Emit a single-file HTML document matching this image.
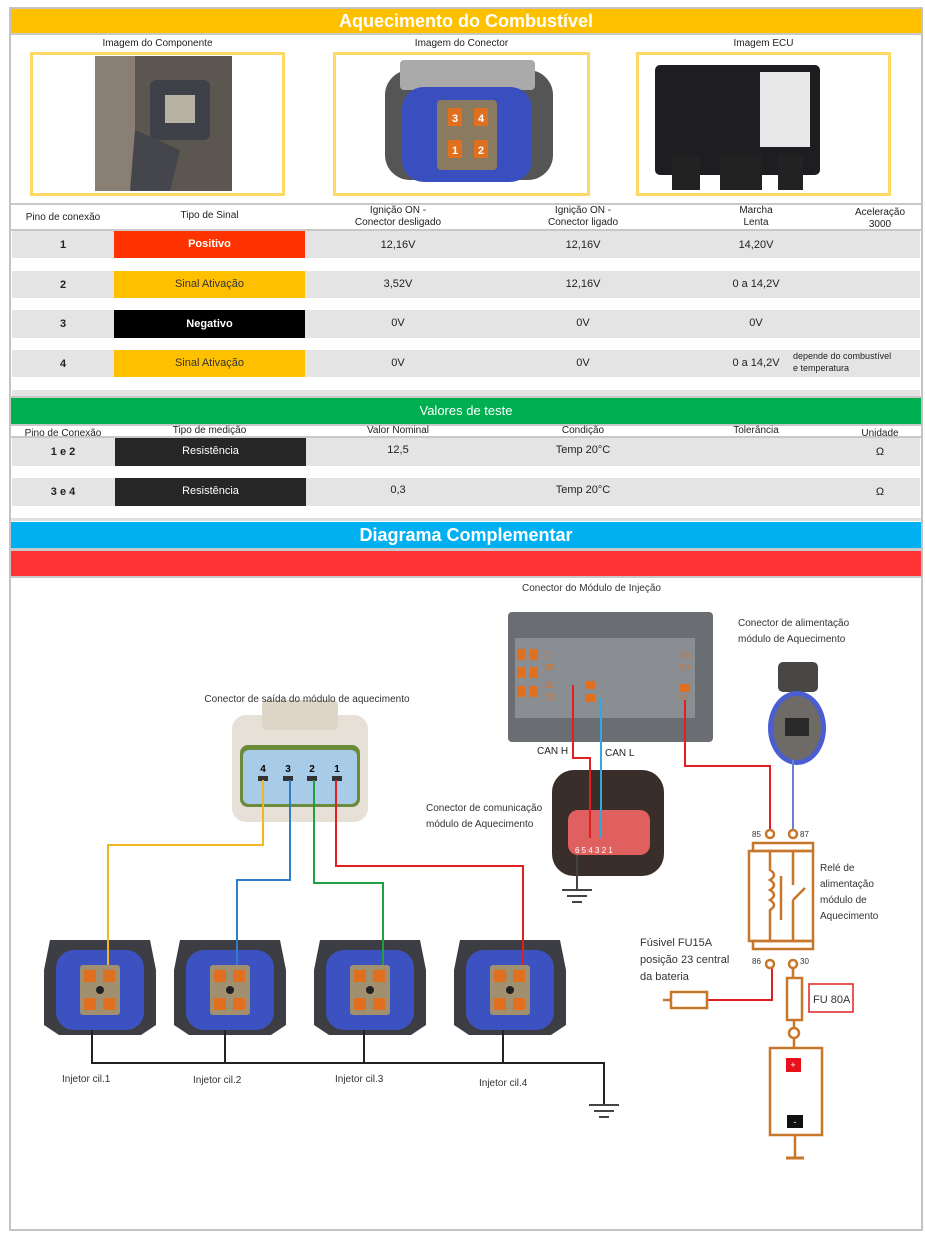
<!DOCTYPE html>
<html><head><meta charset="utf-8"><style>
*{margin:0;padding:0;box-sizing:border-box}
body{width:925px;height:1237px;background:#fff;position:relative;overflow:hidden;font-family:"Liberation Sans",sans-serif;color:#222}
.a{position:absolute}
.t{position:absolute;font-size:10px;text-align:center;line-height:12px}
.hdr{position:absolute;left:11px;width:910px;color:#fff;font-weight:bold;text-align:center}
.row{position:absolute;left:12px;width:908px;background:#e4e4e4}
.cell{position:absolute;left:114px;width:191px;color:#fff;font-weight:bold;font-size:11px;text-align:center}
.frame{position:absolute;border:3px solid #ffd966;top:52px;height:144px}
</style></head><body>
<!-- outer border -->
<div class="a" style="left:9px;top:7px;width:914px;height:1224px;border:2px solid #c4c4c4"></div>
<div class="hdr" style="top:9px;height:24px;background:#ffc000;font-size:18px;line-height:24px">Aquecimento do Combustível</div>
<div class="a" style="left:11px;top:33px;width:910px;height:2px;background:#c8c8c8"></div>
<div class="t" style="left:30px;top:38px;width:255px">Imagem do Componente</div>
<div class="t" style="left:333px;top:38px;width:257px">Imagem do Conector</div>
<div class="t" style="left:636px;top:38px;width:255px">Imagem ECU</div>
<div class="frame" style="left:30px;width:255px"></div>
<div class="frame" style="left:333px;width:257px"></div>
<div class="frame" style="left:636px;width:255px"></div>
<svg class="a" style="left:0;top:0" width="925" height="200">
<rect x="95" y="56" width="137" height="135" fill="#5b5650"/>
<rect x="95" y="56" width="40" height="135" fill="#8a7f74"/>
<rect x="150" y="80" width="60" height="60" rx="6" fill="#3e4148"/>
<rect x="165" y="95" width="30" height="28" fill="#b8b2a4"/>
<path d="M135 130 L180 150 L170 191 L130 191Z" fill="#44464b"/>
<rect x="385" y="70" width="168" height="110" rx="25" fill="#555"/>
<rect x="400" y="60" width="135" height="30" rx="4" fill="#aaa"/>
<rect x="402" y="87" width="130" height="95" rx="22" fill="#3a4fbf"/>
<rect x="437" y="100" width="60" height="70" rx="4" fill="#8a7a60"/>
<rect x="448" y="108" width="14" height="18" fill="#e07020"/><rect x="474" y="108" width="14" height="18" fill="#e07020"/>
<rect x="448" y="140" width="14" height="18" fill="#e07020"/><rect x="474" y="140" width="14" height="18" fill="#e07020"/>
<text x="455" y="122" font-size="11" fill="#fff" text-anchor="middle" font-weight="bold">3</text><text x="481" y="122" font-size="11" fill="#fff" text-anchor="middle" font-weight="bold">4</text>
<text x="455" y="154" font-size="11" fill="#fff" text-anchor="middle" font-weight="bold">1</text><text x="481" y="154" font-size="11" fill="#fff" text-anchor="middle" font-weight="bold">2</text>
<rect x="655" y="65" width="165" height="110" rx="5" fill="#1e1e22"/>
<rect x="760" y="72" width="50" height="75" fill="#e8e8e8"/>
<rect x="672" y="155" width="28" height="35" fill="#222"/><rect x="720" y="155" width="42" height="35" fill="#222"/><rect x="778" y="155" width="25" height="35" fill="#222"/>
</svg>
<div class="a" style="left:11px;top:203px;width:910px;height:2px;background:#c8c8c8"></div>
<div class="t" style="left:12px;top:212px;width:102px">Pino de conexão</div>
<div class="t" style="left:114px;top:210px;width:191px">Tipo de Sinal</div>
<div class="t" style="left:310px;top:205px;width:176px">Ignição ON -<br>Conector desligado</div>
<div class="t" style="left:495px;top:205px;width:176px">Ignição ON -<br>Conector ligado</div>
<div class="t" style="left:700px;top:205px;width:112px">Marcha<br>Lenta</div>
<div class="t" style="left:840px;top:207px;width:80px">Aceleração<br>3000</div>
<div class="a" style="left:11px;top:229px;width:910px;height:2px;background:#c8c8c8"></div>

<div class="row" style="top:231px;height:27px"></div>
<div class="row" style="top:271px;height:27px"></div>
<div class="row" style="top:310px;height:28px"></div>
<div class="row" style="top:350px;height:27px"></div>
<div class="row" style="top:390px;height:6px"></div>
<div class="cell" style="top:231px;height:27px;line-height:27px;background:#ff3300">Positivo</div>
<div class="cell" style="top:271px;height:27px;line-height:27px;background:#ffc000;color:#333;font-weight:normal">Sinal Ativação</div>
<div class="cell" style="top:310px;height:28px;line-height:28px;background:#000">Negativo</div>
<div class="cell" style="top:350px;height:27px;line-height:27px;background:#ffc000;color:#333;font-weight:normal">Sinal Ativação</div>
<div class="t" style="left:12px;top:239px;width:102px;font-weight:bold;font-size:11px">1</div>
<div class="t" style="left:12px;top:279px;width:102px;font-weight:bold;font-size:11px">2</div>
<div class="t" style="left:12px;top:318px;width:102px;font-weight:bold;font-size:11px">3</div>
<div class="t" style="left:12px;top:358px;width:102px;font-weight:bold;font-size:11px">4</div>
<div class="t" style="left:310px;top:239px;width:176px;font-size:11px">12,16V</div>
<div class="t" style="left:495px;top:239px;width:176px;font-size:11px">12,16V</div>
<div class="t" style="left:700px;top:239px;width:112px;font-size:11px">14,20V</div>
<div class="t" style="left:310px;top:278px;width:176px;font-size:11px">3,52V</div>
<div class="t" style="left:495px;top:278px;width:176px;font-size:11px">12,16V</div>
<div class="t" style="left:700px;top:278px;width:112px;font-size:11px">0 a 14,2V</div>
<div class="t" style="left:310px;top:317px;width:176px;font-size:11px">0V</div>
<div class="t" style="left:495px;top:317px;width:176px;font-size:11px">0V</div>
<div class="t" style="left:700px;top:317px;width:112px;font-size:11px">0V</div>
<div class="t" style="left:310px;top:357px;width:176px;font-size:11px">0V</div>
<div class="t" style="left:495px;top:357px;width:176px;font-size:11px">0V</div>
<div class="t" style="left:700px;top:357px;width:112px;font-size:11px">0 a 14,2V</div>
<div class="t" style="left:793px;top:350px;width:130px;font-size:9px;text-align:left">depende do combustível<br>e temperatura</div>

<div class="a" style="left:11px;top:396px;width:910px;height:2px;background:#c8c8c8"></div>
<div class="hdr" style="top:398px;height:26px;background:#00b050;font-size:13px;font-weight:normal;line-height:26px">Valores de teste</div>
<div class="a" style="left:11px;top:424px;width:910px;height:2px;background:#c8c8c8"></div>
<div class="t" style="left:12px;top:428px;width:102px;font-size:10px">Pino de Conexão</div>
<div class="t" style="left:114px;top:425px;width:191px">Tipo de medição</div>
<div class="t" style="left:310px;top:425px;width:176px">Valor Nominal</div>
<div class="t" style="left:495px;top:425px;width:176px">Condição</div>
<div class="t" style="left:700px;top:425px;width:112px">Tolerância</div>
<div class="t" style="left:840px;top:428px;width:80px">Unidade</div>
<div class="a" style="left:11px;top:436px;width:910px;height:2px;background:#c8c8c8"></div>
<div class="row" style="top:438px;height:28px"></div>
<div class="row" style="top:478px;height:28px"></div>
<div class="cell" style="left:115px;top:438px;height:28px;line-height:26px;background:#262626;font-weight:normal">Resistência</div>
<div class="cell" style="left:115px;top:478px;height:28px;line-height:26px;background:#262626;font-weight:normal">Resistência</div>
<div class="t" style="left:12px;top:446px;width:102px;font-weight:bold;font-size:11px">1 e 2</div>
<div class="t" style="left:12px;top:486px;width:102px;font-weight:bold;font-size:11px">3 e 4</div>
<div class="t" style="left:310px;top:444px;width:176px;font-size:11px">12,5</div>
<div class="t" style="left:310px;top:484px;width:176px;font-size:11px">0,3</div>
<div class="t" style="left:495px;top:444px;width:176px;font-size:11px">Temp 20°C</div>
<div class="t" style="left:495px;top:484px;width:176px;font-size:11px">Temp 20°C</div>
<div class="t" style="left:840px;top:446px;width:80px;font-size:11px">Ω</div>
<div class="t" style="left:840px;top:486px;width:80px;font-size:11px">Ω</div>
<div class="a" style="left:11px;top:518px;width:910px;height:3px;background:#e0e0e0"></div>
<div class="hdr" style="top:522px;height:26px;background:#00b0f0;font-size:18px;line-height:26px">Diagrama Complementar</div>
<div class="a" style="left:11px;top:548px;width:910px;height:3px;background:#c8c8c8"></div>
<div class="hdr" style="top:551px;height:25px;background:#ff3333"></div>
<div class="a" style="left:11px;top:576px;width:910px;height:2px;background:#c8c8c8"></div>

<svg class="a" style="left:0;top:0" width="925" height="1237" font-family="Liberation Sans, sans-serif">
<defs>
<g id="inj">
<path d="M-50 -45 h100 l6 30 v55 l-15 10 h-82 l-15 -10 v-55z" fill="#3c3e44"/>
<rect x="-44" y="-35" width="88" height="80" rx="18" fill="#3c52c0"/>
<rect x="-20" y="-20" width="40" height="50" rx="3" fill="#a09070"/>
<rect x="-16" y="-15" width="12" height="12" fill="#e07020"/><rect x="3" y="-15" width="12" height="12" fill="#e07020"/>
<rect x="-16" y="13" width="12" height="12" fill="#e07020"/><rect x="3" y="13" width="12" height="12" fill="#e07020"/>
<circle cx="0" cy="5" r="4" fill="#222"/>
</g>
<g id="gnd" stroke="#444" stroke-width="2"><line x1="-15" y1="0" x2="15" y2="0"/><line x1="-10" y1="6" x2="10" y2="6"/><line x1="-5" y1="12" x2="5" y2="12"/></g>
</defs>
<use href="#inj" x="100" y="985"/><use href="#inj" x="230" y="985"/><use href="#inj" x="370" y="985"/><use href="#inj" x="510" y="985"/>
<!-- output connector -->
<rect x="232" y="715" width="136" height="107" rx="14" fill="#e6e0d6"/>
<rect x="262" y="700" width="76" height="30" rx="5" fill="#ddd5c8"/>
<rect x="240" y="745" width="120" height="62" rx="8" fill="#6b8a3a"/>
<rect x="243" y="750" width="114" height="54" rx="6" fill="#a8cbe8"/>
<text x="263" y="772" font-size="10" font-weight="bold" text-anchor="middle">4</text><text x="288" y="772" font-size="10" font-weight="bold" text-anchor="middle">3</text><text x="312" y="772" font-size="10" font-weight="bold" text-anchor="middle">2</text><text x="337" y="772" font-size="10" font-weight="bold" text-anchor="middle">1</text>
<g fill="#333"><rect x="258" y="776" width="10" height="5"/><rect x="283" y="776" width="10" height="5"/><rect x="307" y="776" width="10" height="5"/><rect x="332" y="776" width="10" height="5"/></g>
<g fill="none" stroke-width="2">
<path d="M263 780 V845 H108 V965" stroke="#f0b820"/>
<path d="M290 780 V880 H237 V965" stroke="#2f7fc8"/>
<path d="M314 780 V883 H383 V965" stroke="#20a040"/>
<path d="M336 780 V866 H523 V965" stroke="#e02020"/>
<path d="M92 1030 V1063 H604 V1105 M225 1030 V1063 M364 1030 V1063 M503 1030 V1063" stroke="#222"/>
</g>
<use href="#gnd" x="604" y="1105"/>
<text x="307" y="702" font-size="10" text-anchor="middle" fill="#333">Conector de saída do módulo de aquecimento</text>
<g font-size="10" fill="#333"><text x="62" y="1082">Injetor cil.1</text><text x="193" y="1083">Injetor cil.2</text><text x="335" y="1082">Injetor cil.3</text><text x="479" y="1086">Injetor cil.4</text></g>
<!-- ECU connector -->
<rect x="508" y="612" width="205" height="130" rx="4" fill="#6a6d72"/>
<rect x="515" y="638" width="180" height="80" fill="#8a8d92"/>
<g fill="#e07020"><rect x="517" y="649" width="8" height="11"/><rect x="530" y="649" width="8" height="11"/><rect x="517" y="667" width="8" height="11"/><rect x="530" y="667" width="8" height="11"/><rect x="517" y="686" width="8" height="11"/><rect x="530" y="686" width="8" height="11"/>
<rect x="585" y="681" width="10" height="8"/><rect x="585" y="694" width="10" height="8"/><rect x="680" y="684" width="10" height="8"/></g>
<g font-size="8" fill="#e07020"><text x="545" y="658">7</text><text x="545" y="670">29</text><text x="545" y="688">51</text><text x="545" y="700">73</text><text x="680" y="658">28</text><text x="680" y="670">50</text><text x="680" y="700">94</text></g>
<text x="522" y="591" font-size="10" fill="#333">Conector do Módulo de Injeção</text>
<text x="537" y="754" font-size="10" fill="#222">CAN H</text><text x="605" y="756" font-size="10" fill="#222">CAN L</text>
<!-- comm connector -->
<rect x="552" y="770" width="112" height="106" rx="22" fill="#3a2e2a"/>
<rect x="568" y="810" width="82" height="45" rx="10" fill="#e06060"/>
<text x="575" y="853" font-size="8" fill="#fff">6 5 4 3 2 1</text>
<path d="M577 855 V890" stroke="#444" stroke-width="2"/><use href="#gnd" x="577" y="890"/>
<text x="426" y="811" font-size="10" fill="#333">Conector de comunicação</text><text x="426" y="827" font-size="10" fill="#333">módulo de Aquecimento</text>
<!-- power connector -->
<rect x="778" y="662" width="40" height="30" rx="5" fill="#4a4644"/>
<ellipse cx="797" cy="728" rx="29" ry="37" fill="#4a5ed0"/>
<ellipse cx="797" cy="728" rx="24" ry="32" fill="#6e6a66"/>
<rect x="785" y="718" width="24" height="18" fill="#2a2a2a"/>
<text x="738" y="626" font-size="10" fill="#333">Conector de alimentação</text><text x="738" y="642" font-size="10" fill="#333">módulo de Aquecimento</text>
<g fill="none" stroke-width="2">
<path d="M573 685 V758 H590 V838" stroke="#e02020"/>
<path d="M601 698 V838" stroke="#30a8e0"/>
<path d="M685 700 V766 H770 V830" stroke="#e02020"/>
<path d="M793 760 V830" stroke="#6a80d0"/>
<path d="M707 1000 H772 V968" stroke="#e02020"/>
</g>
<!-- relay -->
<g fill="none" stroke="#c8762a" stroke-width="2.5">
<circle cx="770" cy="834" r="4"/><circle cx="793" cy="834" r="4"/><circle cx="770" cy="964" r="4"/><circle cx="793" cy="964" r="4"/>
<rect x="753" y="843" width="60" height="8"/><rect x="749" y="851" width="64" height="90"/><rect x="753" y="941" width="60" height="8"/>
<path d="M770 851 V870 q8 5 0 10 q8 5 0 10 q8 5 0 10 q8 5 0 10 V941"/><path d="M781 876 V920"/><path d="M793 851 V885 M793 900 L805 888 M793 900 V941"/>
<path d="M793 968 V978"/><rect x="787" y="978" width="15" height="42"/><path d="M794 1020 V1028"/><circle cx="794" cy="1033" r="5"/><path d="M794 1038 V1048"/>
<rect x="770" y="1048" width="52" height="87"/><path d="M795 1135 V1158"/>
<rect x="671" y="992" width="36" height="16"/><path d="M663 1000 H671"/>
</g>
<path d="M786 1158 h18" stroke="#c8762a" stroke-width="3"/>
<rect x="786" y="1058" width="15" height="14" fill="#e8101a"/><text x="793" y="1068" font-size="9" fill="#fff" text-anchor="middle">+</text>
<rect x="787" y="1115" width="16" height="13" fill="#111"/><text x="795" y="1125" font-size="9" fill="#fff" text-anchor="middle">-</text>
<g font-size="8" fill="#333"><text x="752" y="837">85</text><text x="800" y="837">87</text><text x="752" y="964">86</text><text x="800" y="964">30</text></g>
<g font-size="10" fill="#333"><text x="820" y="871">Relé de</text><text x="820" y="887">alimentação</text><text x="820" y="903">módulo de</text><text x="820" y="919">Aquecimento</text>
<text x="640" y="946" font-size="11">Fúsivel FU15A</text><text x="640" y="963" font-size="11">posição 23 central</text><text x="640" y="980" font-size="11">da bateria</text></g>
<rect x="809" y="984" width="44" height="28" fill="none" stroke="#e02020" stroke-width="1.5"/>
<text x="813" y="1003" font-size="11" fill="#333">FU 80A</text>
</svg>
</body></html>
